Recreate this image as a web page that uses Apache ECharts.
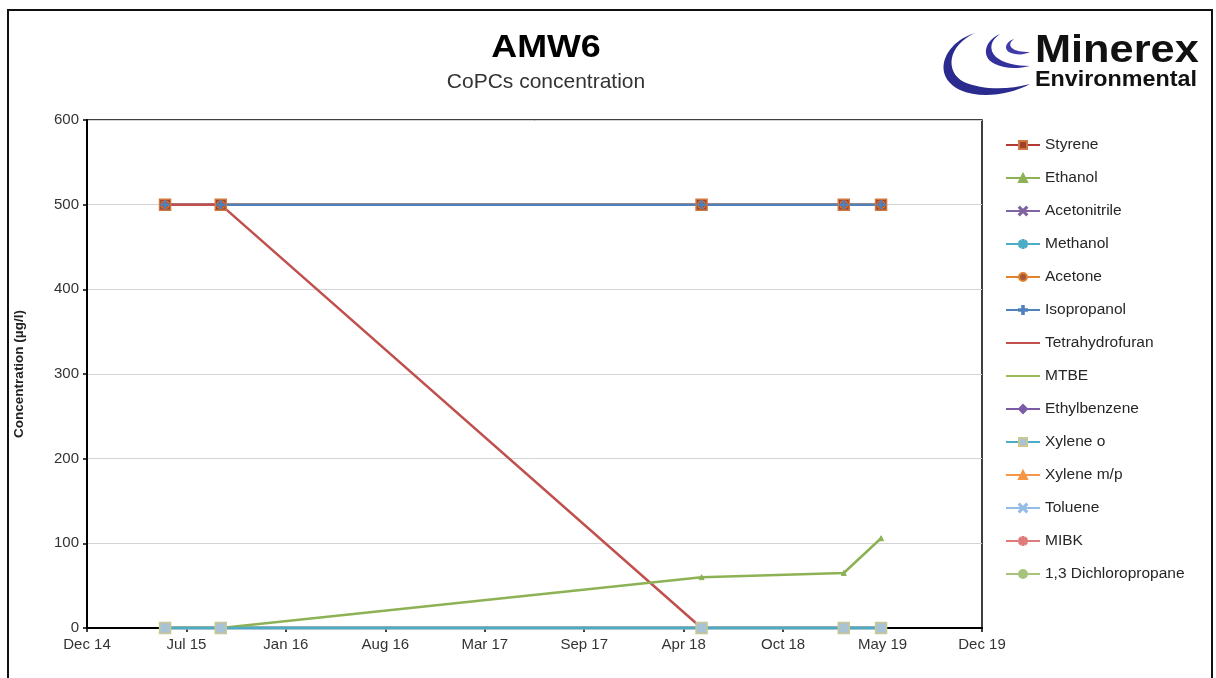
<!DOCTYPE html>
<html>
<head>
<meta charset="utf-8">
<script src="https://cdn.jsdelivr.net/npm/echarts@6.0.0/dist/echarts.min.js"></script>
<style>
  html, body { margin: 0; padding: 0; background: #fff; }
  #chart { width: 1216px; height: 678px; }
</style>
</head>
<body>
<div id="chart"></div>
<script>
// Sampling dates of well AMW6
const sampleDates = ['2015-06-02', '2015-09-22', '2018-05-16', '2019-02-26', '2019-05-12'];

// Concentrations (µg/l) per compound, one value per sampling date
const styrene        = [500, 500, 500, 500, 500];
const ethanol        = [0, 0, 60, 65, 106];
const acetonitrile   = [0, 0, 0, 0, 0];
const methanol       = [0, 0, 0, 0, 0];
const acetone        = [500, 500, 500, 500, 500];
const isopropanol    = [500, 500, 500, 500, 500];
const tetrahydrofuran = [500, 500, 0, 0, 0];
const mtbe           = [0, 0, 0, 0, 0];
const ethylbenzene   = [0, 0, 0, 0, 0];
const xyleneO        = [0, 0, 0, 0, 0];
const xyleneMP       = [0, 0, 0, 0, 0];
const toluene        = [0, 0, 0, 0, 0];
const mibk           = [0, 0, 0, 0, 0];
const dichloropropane = [0, 0, 0, 0, 0];

// Date axis range and step (days)
const axisStart = '2014-12-27';
const axisEnd = '2019-12-01';
const axisStepDays = 200;
const yTicks = { min: 0, max: 600, step: 100 };

const MONTHS = ['Jan','Feb','Mar','Apr','May','Jun','Jul','Aug','Sep','Oct','Nov','Dec'];
const EPOCH = Date.UTC(1899, 11, 30);
function toSerial(iso) {
  const [y, m, d] = iso.split('-').map(Number);
  return Math.round((Date.UTC(y, m - 1, d) - EPOCH) / 86400000);
}
function serialLabel(v) {
  const dt = new Date(EPOCH + v * 86400000);
  return MONTHS[dt.getUTCMonth()] + ' ' + String(dt.getUTCFullYear()).slice(2);
}

const SYM = {
  cross: 'path://M1,0L5,4L9,0L10,1L6,5L10,9L9,10L5,6L1,10L0,9L4,5L0,1Z',
  plus: 'path://M4,0h2v4h4v2h-4v4h-2v-4h-4v-2h4Z',
  star: 'path://M4.4,0L5.6,0L5.6,3.6L8.4,1.2L9.2,2L6.4,4.4L10,4.4L10,5.6L6.4,5.6L9.2,8L8.4,8.8L5.6,6.4L5.6,10L4.4,10L4.4,6.4L1.6,8.8L0.8,8L3.6,5.6L0,5.6L0,4.4L3.6,4.4L0.8,2L1.6,1.2L4.4,3.6Z'
};

function line(name, values, color, symbol, size, extra) {
  return Object.assign({
    name: name,
    type: 'line',
    data: values.map((v, i) => [toSerial(sampleDates[i]), v]),
    symbol: symbol,
    symbolSize: size,
    showSymbol: symbol !== 'none',
    lineStyle: { color: color, width: 2.5 },
    itemStyle: { color: color, borderColor: color, borderWidth: 1 },
    emphasis: { disabled: true },
    animation: false
  }, extra || {});
}

const series = [
  line('Styrene', styrene, '#B23A38', 'rect', 11, { itemStyle: { color: '#A0402E', borderColor: '#D07840', borderWidth: 1.5 } }),
  line('Ethanol', ethanol, '#8DB255', 'triangle', 5, { z: 4 }),
  line('Acetonitrile', acetonitrile, '#8064A2', SYM.cross, 8),
  line('Methanol', methanol, '#4BACC6', SYM.star, 8),
  line('Acetone', acetone, '#E0822E', 'circle', 8, { itemStyle: { color: '#A8563A', borderColor: '#E0822E', borderWidth: 1 } }),
  line('Isopropanol', isopropanol, '#4F81BD', SYM.plus, 8),
  line('Tetrahydrofuran', tetrahydrofuran, '#C0504D', 'none', 0),
  line('MTBE', mtbe, '#9BBB59', 'none', 0),
  line('Ethylbenzene', ethylbenzene, '#7B5BA6', 'diamond', 8),
  line('Xylene o', xyleneO, '#4BACC6', 'rect', 11, { z: 5, itemStyle: { color: '#A9C3D6', borderColor: '#C8C890', borderWidth: 1.5 } }),
  line('Xylene m/p', xyleneMP, '#F79646', 'triangle', 8),
  line('Toluene', toluene, '#93BDE4', SYM.cross, 8, { z: 3, lineStyle: { color: '#93BDE4', width: 3.5 } }),
  line('MIBK', mibk, '#E07B7B', SYM.star, 8),
  line('1,3 Dichloropropane', dichloropropane, '#A6C47A', 'circle', 8)
];

// Legend entries; compounds drawn without markers show only their line
const legendData = series.map(s => s.symbol === 'none'
  ? { name: s.name, itemStyle: { color: 'rgba(0,0,0,0)', borderColor: 'rgba(0,0,0,0)', borderWidth: 0 } }
  : { name: s.name });

const FONT = '"Liberation Sans", Arial, sans-serif';

// Minerex crescent emblem (vector, drawn as an inline SVG image)
const emblemSvg =
  '<svg xmlns="http://www.w3.org/2000/svg" width="100" height="70" viewBox="930 30 100 70">' +
  '<path d="M975,33 C945,42 930,75 960,90 C980,99 1010,95 1030,84 C1008,90 982,90 964,82 C945,72 947,46 975,33 Z" fill="#2B2A8E"/>' +
  '<path d="M1000,34 C985,40 980,57 995,64 C1005,69 1018,69 1030,66 C1016,66 1003,63 996,57 C988,49 991,40 1000,34 Z" fill="#34319C"/>' +
  '<path d="M1014,39 C1005,42 1003,50 1011,53 C1017,55 1024,55 1030,52 C1022,52 1015,51 1012,48 C1009,45 1010,42 1014,39 Z" fill="#3F3CAA"/>' +
  '</svg>';

const chart = echarts.init(document.getElementById('chart'), null, { renderer: 'canvas' });
chart.setOption({
  backgroundColor: '#fff',
  animation: false,
  grid: {
    left: 87, right: 234, top: 120, bottom: 50,
    show: true, borderColor: '#000', borderWidth: 1.5, backgroundColor: 'transparent'
  },
  legend: {
    orient: 'vertical',
    left: 1005, top: 137,
    padding: 0,
    itemWidth: 34, itemHeight: 10, itemGap: 17,
    textStyle: { fontFamily: FONT, fontSize: 15.5, color: '#262626', lineHeight: 16 },
    data: legendData,
    selectedMode: false
  },
  xAxis: {
    type: 'value',
    min: toSerial(axisStart),
    max: toSerial(axisEnd),
    interval: axisStepDays,
    axisLine: { show: true, lineStyle: { color: '#000', width: 2 } },
    axisTick: { show: true, length: 4, lineStyle: { color: '#000', width: 1.5 } },
    splitLine: { show: false },
    axisLabel: { formatter: serialLabel, margin: 9, fontFamily: FONT, fontSize: 15, color: '#333' }
  },
  yAxis: {
    type: 'value',
    min: yTicks.min, max: yTicks.max, interval: yTicks.step,
    name: 'Concentration (µg/l)',
    nameLocation: 'middle',
    nameGap: 61,
    nameTextStyle: { fontFamily: FONT, fontSize: 13.5, fontWeight: 'bold', color: '#222' },
    axisLine: { show: true, lineStyle: { color: '#000', width: 2 } },
    axisTick: { show: true, length: 4, lineStyle: { color: '#000', width: 1.5 } },
    splitLine: { show: true, lineStyle: { color: '#D4D4D4', width: 1 } },
    axisLabel: { margin: 8, fontFamily: FONT, fontSize: 15, color: '#333' }
  },
  graphic: [
    { type: 'rect', shape: { x: 8, y: 10, width: 1204, height: 680 }, style: { fill: 'none', stroke: '#111', lineWidth: 2 }, z: -1 },
    { type: 'text', x: 546, y: 48, scaleX: 1.12, style: { text: 'AMW6', font: 'bold 32px ' + FONT, fill: '#000', align: 'center', verticalAlign: 'middle' } },
    { type: 'text', x: 546, y: 82, style: { text: 'CoPCs concentration', font: '21px ' + FONT, fill: '#333', align: 'center', verticalAlign: 'middle' } },
    { type: 'image', x: 930, y: 30, style: { image: 'data:image/svg+xml;charset=utf-8,' + encodeURIComponent(emblemSvg), width: 100, height: 70 } },
    { type: 'text', x: 1035, y: 52, scaleX: 1.14, style: { text: 'Minerex', font: 'bold 38px ' + FONT, fill: '#111', verticalAlign: 'middle' } },
    { type: 'text', x: 1035, y: 80, scaleX: 1.06, style: { text: 'Environmental', font: 'bold 22px ' + FONT, fill: '#111', verticalAlign: 'middle' } }
  ],
  series: series
});
</script>
</body>
</html>
